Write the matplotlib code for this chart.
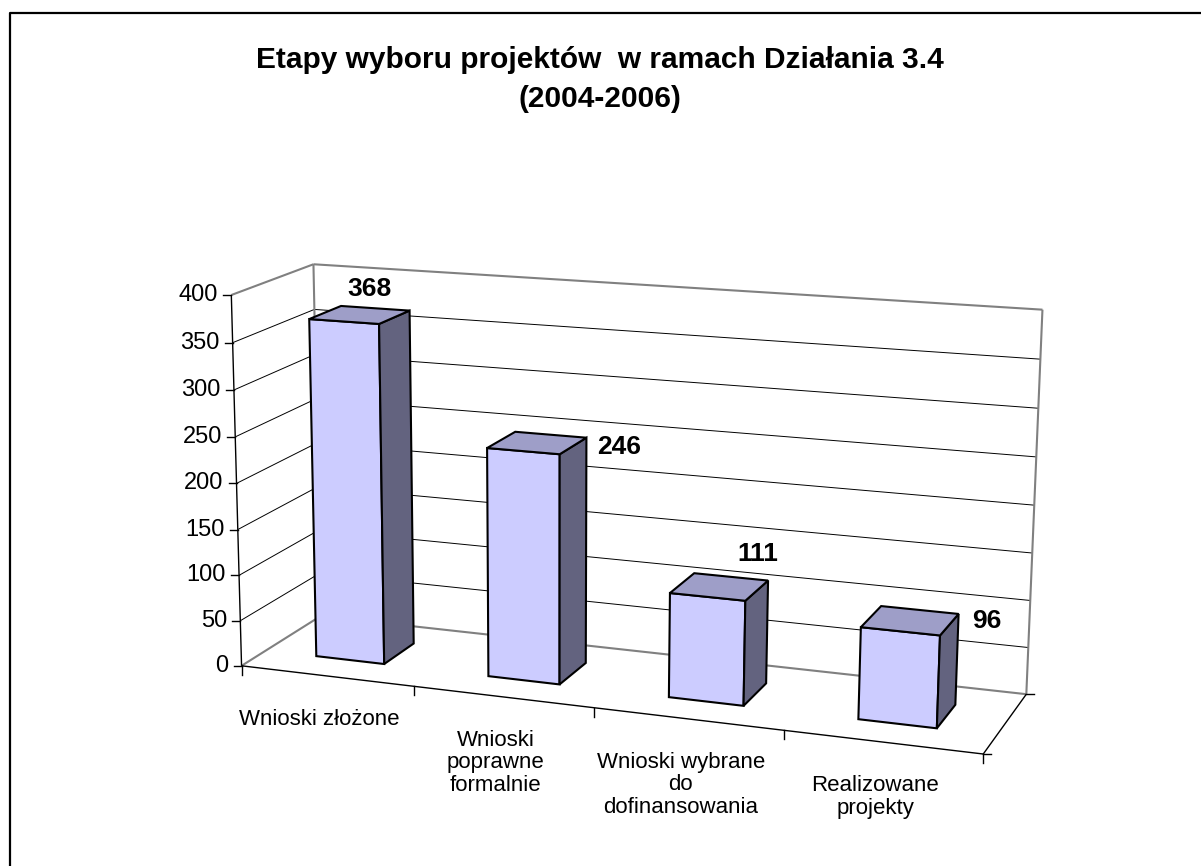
import numpy as np
import matplotlib
matplotlib.use('Agg')
import matplotlib.pyplot as plt
from matplotlib.patches import Polygon

plt.rcParams['font.family'] = ['Liberation Sans', 'DejaVu Sans']

# chart data
title_lines = ['Etapy wyboru projektów  w ramach Działania 3.4', '(2004-2006)']
categories = ['Wnioski złożone',
              'Wnioski\npoprawne\nformalnie',
              'Wnioski wybrane\ndo\ndofinansowania',
              'Realizowane\nprojekty']
values = [368, 246, 111, 96]
y_ticks = [0, 50, 100, 150, 200, 250, 300, 350, 400]
y_max = 400

# where the corners of the 3d box land on the page (pixels), used to fit the perspective
# world coords: (category position, depth 0..1, value / y_max)
box_world = [(0, 0, 0), (4, 0, 0), (0, 1, 0), (4, 1, 0),
             (0, 0, 1), (0, 1, 1), (4, 1, 1)]
box_screen = [(245, 664), (983, 756), (317, 618), (1027, 692),
              (228, 295), (317, 264), (1042, 310)]

# pixel offsets of the value labels from the bar top centre
label_offsets = [(10, -26), (82, 4), (38, -33), (77, 0)]

bar_w = 0.4      # gap width 150%
front_col = '#ccccff'
top_col = '#9e9ec8'
side_col = '#63637f'
wall_col = '#808080'


def fit_camera(world, screen):
    rows = []
    for (X, Y, Z), (u, v) in zip(world, screen):
        u, v = u / 1000.0, v / 1000.0
        rows.append([X, Y, Z, 1, 0, 0, 0, 0, -u * X, -u * Y, -u * Z, -u])
        rows.append([0, 0, 0, 0, X, Y, Z, 1, -v * X, -v * Y, -v * Z, -v])
    _, _, vt = np.linalg.svd(np.array(rows, float))
    return vt[-1].reshape(3, 4)


P = fit_camera(box_world, box_screen)


def proj(pts):
    pts = np.atleast_2d(np.asarray(pts, float))
    h = np.c_[pts, np.ones(len(pts))] @ P.T
    return h[:, :2] / h[:, 2:3] * 1000.0


def line3d(ax, a, b, **kw):
    p = proj([a, b])
    ax.plot(p[:, 0], p[:, 1], solid_capstyle='butt', **kw)


fig = plt.figure(figsize=(12.01, 8.66), dpi=100)
ax = fig.add_axes([0, 0, 1, 1])
ax.set_xlim(0, 1201)
ax.set_ylim(866, 0)
ax.axis('off')

# outer frame of the chart area
ax.plot([10, 10, 1201], [866, 13, 13], color='black', lw=1.6)

# title
ax.text(600, 68, title_lines[0], ha='center', va='baseline', fontsize=21.5, fontweight='bold')
ax.text(600, 107, title_lines[1], ha='center', va='baseline', fontsize=21.5, fontweight='bold')

n = len(categories)

# gridlines on left and back wall
for t in y_ticks[1:-1]:
    z = t / y_max
    line3d(ax, (0, 0, z), (0, 1, z), color='black', lw=0.7, zorder=2)
    line3d(ax, (0, 1, z), (n, 1, z), color='black', lw=0.7, zorder=2)

# wall outlines
grey = dict(color=wall_col, lw=1.5, zorder=2)
line3d(ax, (0, 0, 1), (0, 1, 1), **grey)
line3d(ax, (0, 1, 1), (n, 1, 1), **grey)
line3d(ax, (0, 1, 0), (0, 1, 1), **grey)
line3d(ax, (n, 1, 0), (n, 1, 1), **grey)
line3d(ax, (0, 0, 0), (0, 1, 0), **grey)
line3d(ax, (0, 1, 0), (n, 1, 0), **grey)

# axes
axis_kw = dict(color='black', lw=1.0, zorder=3)
line3d(ax, (0, 0, 0), (0, 0, 1), **axis_kw)
line3d(ax, (0, 0, 0), (n, 0, 0), **axis_kw)
line3d(ax, (n, 0, 0), (n, 1, 0), **axis_kw)

# value axis ticks and labels
for t in y_ticks:
    x, y = proj((0, 0, t / y_max))[0]
    ax.plot([x - 8, x], [y, y], color='black', lw=1.0, zorder=3)
    ax.text(x - 13, y, str(t), ha='right', va='center', fontsize=17)

# category ticks
for i in range(n + 1):
    x, y = proj((i, 0, 0))[0]
    ax.plot([x, x], [y, y + 9], color='black', lw=1.0, zorder=3)

# depth axis ticks
for d in (0, 1):
    x, y = proj((n, d, 0))[0]
    ax.plot([x, x + 8], [y, y], color='black', lw=1.0, zorder=3)

# category labels
for i, lab in enumerate(categories):
    x, y = proj((i + 0.5, 0, 0))[0]
    ax.text(x - 7, y + 33, lab, ha='center', va='top', fontsize=16,
            multialignment='center', linespacing=1.1)

# bars
y0, y1 = 0.5 - bar_w / 2, 0.5 + bar_w / 2
for i, v in enumerate(values):
    x0, x1 = i + 0.5 - bar_w / 2, i + 0.5 + bar_w / 2
    z = v / y_max
    faces = [
        ([(x0, y0, 0), (x1, y0, 0), (x1, y0, z), (x0, y0, z)], front_col),
        ([(x1, y0, 0), (x1, y1, 0), (x1, y1, z), (x1, y0, z)], side_col),
        ([(x0, y0, z), (x1, y0, z), (x1, y1, z), (x0, y1, z)], top_col),
    ]
    for pts, col in faces:
        ax.add_patch(Polygon(proj(pts), closed=True, facecolor=col, edgecolor='black',
                             lw=1.5, joinstyle='miter', zorder=5))
    cx, cy = proj((i + 0.5, 0.5, z))[0]
    dx, dy = label_offsets[i]
    ax.text(cx + dx, cy + dy, str(v), ha='center', va='center', fontsize=19,
            fontweight='bold', zorder=6)

fig.savefig('out.png', dpi=100)
